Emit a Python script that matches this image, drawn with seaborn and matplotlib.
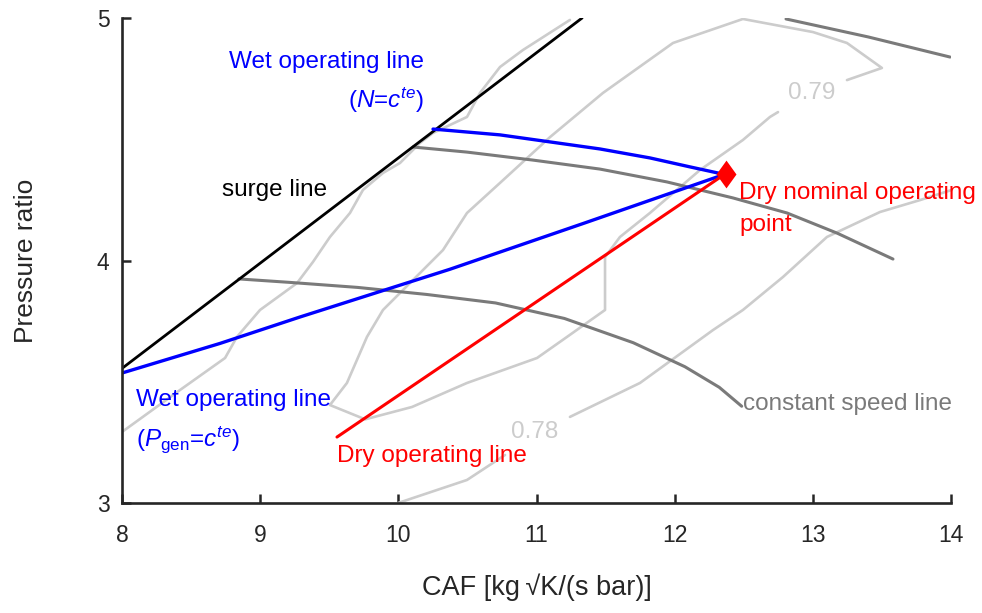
import matplotlib
matplotlib.use("Agg")
import matplotlib.pyplot as plt
import seaborn as sns
import pandas as pd

# ---------------- data ----------------
surge_x = [8.0, 11.33]
surge_y = [3.555, 5.0]

wet_n_x = [10.251, 10.736, 11.098, 11.459, 11.821, 12.111, 12.36]
wet_n_y = [4.542, 4.518, 4.489, 4.460, 4.423, 4.386, 4.355]

wet_p_x = [8.0, 8.709, 9.288, 10.374, 11.35, 12.36]
wet_p_y = [3.536, 3.658, 3.767, 3.964, 4.155, 4.355]

dry_x = [9.556, 12.36]
dry_y = [3.272, 4.355]

nominal_x = [12.37]
nominal_y = [4.355]

speed1_x = [8.846, 9.208, 9.706, 10.205, 10.703, 11.202, 11.700, 12.074, 12.323, 12.485]
speed1_y = [3.924, 3.910, 3.889, 3.860, 3.825, 3.761, 3.661, 3.562, 3.477, 3.399]

speed2_x = [10.106, 10.497, 10.975, 11.459, 11.944, 12.422, 12.813, 13.175, 13.58]
speed2_y = [4.468, 4.447, 4.414, 4.377, 4.324, 4.258, 4.196, 4.113, 4.006]

speed3_x = [12.806, 13.4, 13.993]
speed3_y = [4.996, 4.922, 4.839]

effA_x = [8.0, 8.42, 8.746, 8.832, 8.999, 9.267, 9.382, 9.505, 9.65, 9.744,
          9.889, 10.012, 10.157, 10.251, 10.497, 10.591, 10.736, 10.902, 11.242]
effA_y = [3.293, 3.466, 3.598, 3.685, 3.796, 3.907, 3.994, 4.097, 4.196, 4.291,
          4.361, 4.402, 4.485, 4.526, 4.592, 4.691, 4.798, 4.868, 4.992]

effB1_x = [9.998, 10.497, 10.772]
effB1_y = [3.0, 3.095, 3.198]
effB2_x = [11.242, 11.749, 12.277, 12.494, 12.784, 13.102, 13.486, 13.775, 14.0]
effB2_y = [3.355, 3.495, 3.713, 3.796, 3.932, 4.097, 4.200, 4.249, 4.290]

effC_x = [13.247, 13.5, 13.247, 13.001, 12.494, 11.988, 11.481, 11.098, 10.736,
          10.497, 10.323, 10.012, 9.889, 9.773, 9.628, 9.505, 9.76, 10.099,
          10.497, 11.004, 11.221, 11.496, 11.496, 11.604, 11.821, 12.183,
          12.494, 12.69, 12.748]
effC_y = [4.744, 4.794, 4.897, 4.942, 4.996, 4.897, 4.691, 4.509, 4.32,
          4.196, 4.043, 3.866, 3.796, 3.685, 3.495, 3.404, 3.345, 3.396,
          3.495, 3.598, 3.685, 3.796, 4.014, 4.097, 4.196, 4.373,
          4.497, 4.592, 4.612]

x_ticks = [8, 9, 10, 11, 12, 13, 14]
y_ticks = [3, 4, 5]

# ---------------- style ----------------
sns.set_theme(style="white")
plt.rcParams["font.family"] = ["Liberation Sans", "DejaVu Sans"]
plt.rcParams["mathtext.fontset"] = "custom"
plt.rcParams["mathtext.rm"] = "Liberation Sans"
plt.rcParams["mathtext.it"] = "Liberation Sans:italic"
plt.rcParams["mathtext.bf"] = "Liberation Sans:bold"

fig = plt.figure(figsize=(9.82, 6.13), dpi=100)
ax = fig.add_axes([122 / 982, 1 - 503 / 613, (951 - 122) / 982, (503 - 18) / 613])

LIGHT = "#cccccc"
DARK = "#7a7a7a"


def line(xs, ys, color, lw):
    df = pd.DataFrame({"x": xs, "y": ys})
    sns.lineplot(data=df, x="x", y="y", sort=False, estimator=None,
                 color=color, linewidth=lw, ax=ax, legend=False)


# efficiency contours
line(effA_x, effA_y, LIGHT, 1.9)
line(effB1_x, effB1_y, LIGHT, 1.9)
line(effB2_x, effB2_y, LIGHT, 1.9)
line(effC_x, effC_y, LIGHT, 1.9)
# constant speed lines
line(speed1_x, speed1_y, DARK, 2.2)
line(speed2_x, speed2_y, DARK, 2.2)
line(speed3_x, speed3_y, DARK, 2.2)
# surge line
line(surge_x, surge_y, "black", 2.0)
# operating lines
line(wet_n_x, wet_n_y, "#0000ff", 2.4)
line(wet_p_x, wet_p_y, "#0000ff", 2.4)
line(dry_x, dry_y, "#ff0000", 2.2)
diamond = [(0, 1), (0.72, 0), (0, -1), (-0.72, 0)]
sns.scatterplot(x=nominal_x, y=nominal_y, marker=diamond, s=400, color="#ff0000",
                edgecolor="#ff0000", linewidth=0, ax=ax, zorder=5, legend=False)

FS = 17.5
ax.text(10.186, 4.819, "Wet operating line", color="#0000ff", fontsize=FS,
        ha="right", va="center")
ax.text(10.186, 4.662, r"($N$=$c^{te}$)", color="#0000ff", fontsize=FS,
        ha="right", va="center")
ax.text(8.724, 4.291, "surge line", color="black", fontsize=FS,
        ha="left", va="center")
ax.text(12.466, 4.278, "Dry nominal operating", color="#ff0000", fontsize=FS,
        ha="left", va="center")
ax.text(12.466, 4.146, "point", color="#ff0000", fontsize=FS,
        ha="left", va="center")
ax.text(8.101, 3.425, "Wet operating line", color="#0000ff", fontsize=FS,
        ha="left", va="center")
ax.text(8.101, 3.262, r"($P_{\rm gen}$=$c^{te}$)", color="#0000ff", fontsize=FS,
        ha="left", va="center")
ax.text(9.556, 3.194, "Dry operating line", color="#ff0000", fontsize=FS,
        ha="left", va="center")
ax.text(12.494, 3.408, "constant speed line", color=DARK, fontsize=FS,
        ha="left", va="center")
ax.text(10.989, 3.293, "0.78", color=LIGHT, fontsize=FS, ha="center", va="center")
ax.text(12.994, 4.691, "0.79", color=LIGHT, fontsize=FS, ha="center", va="center")

ax.set_xlim(8, 14)
ax.set_ylim(3, 5)
ax.set_xticks(x_ticks)
ax.set_yticks(y_ticks)
ax.set_xticklabels([str(t) for t in x_ticks])
ax.set_yticklabels([str(t) for t in y_ticks])
ax.tick_params(axis="x", direction="in", length=6.5, width=1.8, colors="#262626",
               labelsize=16.5, pad=15, bottom=True)
ax.tick_params(axis="y", direction="in", length=6.5, width=1.8, colors="#262626",
               labelsize=16.5, pad=9, left=True)
for s in ["top", "right"]:
    ax.spines[s].set_visible(False)
for s in ["left", "bottom"]:
    ax.spines[s].set_color("#262626")
    ax.spines[s].set_linewidth(1.9)
ax.set_xlabel("CAF [kg\u2009\u221aK/(s bar)]", fontsize=19.5, color="#262626",
              labelpad=19)
ax.set_ylabel("Pressure ratio", fontsize=19, color="#262626", labelpad=42)
ax.set_facecolor("white")
ax.grid(False)

fig.savefig("out.png", dpi=100, facecolor="white")
